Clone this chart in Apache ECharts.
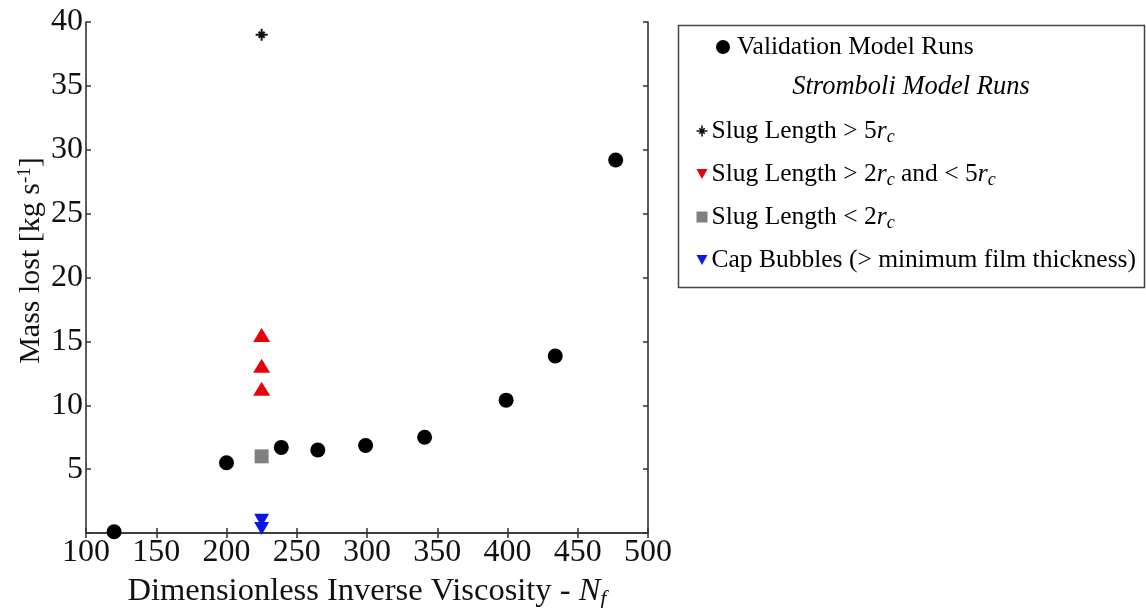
<!DOCTYPE html>
<html>
<head>
<meta charset="utf-8">
<script src="https://cdn.jsdelivr.net/npm/echarts@6/dist/echarts.min.js"></script>
<style>html,body{margin:0;padding:0;background:#fff}#c{width:1146px;height:608px}</style>
</head>
<body>
<div id="c"></div>
<script>
// ---- data ----
const validationX = [120, 200, 239, 265, 299, 341, 399, 434, 477];
const validationY = [0.1, 5.5, 6.7, 6.5, 6.85, 7.5, 10.4, 13.85, 29.2];
const slugLongX = [225];
const slugLongY = [39];
const slugMidX = [225, 225, 225];
const slugMidY = [15.5, 13.1, 11.3];
const slugShortX = [225];
const slugShortY = [6.0];
const capX = [225, 225];
const capY = [1.0, 0.35];
const xTicks = [100, 150, 200, 250, 300, 350, 400, 450, 500];
const yTicks = [0, 5, 10, 15, 20, 25, 30, 35, 40];

const seriesNames = ['Validation Model Runs', 'Slug Length > 5rc', 'Slug Length > 2rc and < 5rc', 'Slug Length < 2rc', 'Cap Bubbles (> minimum film thickness)'];
const zip = (a, b) => a.map((v, i) => [v, b[i]]);

const FONT = '"Liberation Serif", "DejaVu Serif", serif';
const downTri = 'path://M0,0L10,0L5,9Z';
const star = 'path://M5,0L5,10M0,5L10,5M2.5,2.5L7.5,7.5M7.5,2.5L2.5,7.5';

const legendFmt = {
  'Validation Model Runs': 'Validation Model Runs',
  'Slug Length > 5rc': 'Slug Length > 5{i|r}{s|c}',
  'Slug Length > 2rc and < 5rc': 'Slug Length > 2{i|r}{s|c} and < 5{i|r}{s|c}',
  'Slug Length < 2rc': 'Slug Length < 2{i|r}{s|c}',
  'Cap Bubbles (> minimum film thickness)': 'Cap Bubbles (> minimum film thickness)'
};
const legendRich = {
  i: {fontFamily: FONT, fontSize: 25.5, fontStyle: 'italic', color: '#000', lineHeight: 30},
  s: {fontFamily: FONT, fontSize: 18, fontStyle: 'italic', color: '#000', lineHeight: 16, padding: [12, 0, 0, 0]}
};

const chart = echarts.init(document.getElementById('c'));
const axisLine = {show: true, lineStyle: {color: '#333', width: 1.6}};
chart.setOption({
  animation: false,
  backgroundColor: '#fff',
  grid: {left: 86, right: 498, top: 22, bottom: 75, containLabel: false, outerBoundsMode: 'none'},
  xAxis: [{
    type: 'value', min: xTicks[0], max: xTicks[xTicks.length - 1], interval: 50,
    axisLine: axisLine, splitLine: {show: false},
    axisTick: {inside: true, length: 5, lineStyle: {color: '#333', width: 1.5}},
    axisLabel: {fontFamily: FONT, fontSize: 32, color: '#111', margin: 4},
    name: 'Dimensionless Inverse Viscosity - {i|N}{s|f}', nameLocation: 'middle', nameGap: 30,
    nameTextStyle: {fontFamily: FONT, fontSize: 32.5, color: '#111', lineHeight: 34,
      rich: {i: {fontFamily: FONT, fontSize: 32.5, fontStyle: 'italic', color: '#111', lineHeight: 34},
             s: {fontFamily: FONT, fontSize: 22, fontStyle: 'italic', color: '#111', lineHeight: 20, padding: [14, 0, 0, 0]}}}
  }, {
    type: 'value', position: 'top', min: xTicks[0], max: xTicks[xTicks.length - 1], interval: 50,
    axisLine: axisLine, splitLine: {show: false},
    axisTick: {inside: true, length: 5, lineStyle: {color: '#333', width: 1.5}},
    axisLabel: {show: false}
  }],
  yAxis: [{
    type: 'value', min: yTicks[0], max: yTicks[yTicks.length - 1], interval: 5,
    axisLine: axisLine, splitLine: {show: false},
    axisTick: {inside: true, length: 5, lineStyle: {color: '#333', width: 1.5}},
    axisLabel: {fontFamily: FONT, fontSize: 32, color: '#111', margin: 3, formatter: v => v === 0 ? '' : String(v)},
    name: 'Mass lost [kg s{sup|-1}]', nameLocation: 'middle', nameGap: 37, nameRotate: 90,
    nameTextStyle: {fontFamily: FONT, fontSize: 30, color: '#111', lineHeight: 32, padding: [0, 0, 0, 34],
      rich: {sup: {fontFamily: FONT, fontSize: 19, color: '#111', lineHeight: 18, padding: [0, 0, 12, 0]}}}
  }, {
    type: 'value', position: 'right', min: yTicks[0], max: yTicks[yTicks.length - 1], interval: 5,
    axisLine: axisLine, splitLine: {show: false},
    axisTick: {inside: true, length: 5, lineStyle: {color: '#333', width: 1.5}},
    axisLabel: {show: false}
  }],
  legend: [{
    data: [{name: seriesNames[0], icon: 'circle'}],
    left: 711, top: 27, orient: 'vertical', itemWidth: 14, itemHeight: 14, itemGap: 13,
    selectedMode: false,
    textStyle: {fontFamily: FONT, fontSize: 25.5, color: '#000', lineHeight: 30, padding: [0, 0, 0, 2]}
  }, {
    data: [
      {name: seriesNames[1], icon: star, itemStyle: {color: 'none', borderColor: '#111', borderWidth: 1.6}},
      {name: seriesNames[2], icon: downTri},
      {name: seriesNames[3], icon: 'rect'},
      {name: seriesNames[4], icon: downTri}
    ],
    left: 689, top: 111, orient: 'vertical', itemWidth: 11, itemHeight: 11, itemGap: 13,
    selectedMode: false,
    formatter: n => legendFmt[n],
    textStyle: {fontFamily: FONT, fontSize: 25.5, color: '#000', lineHeight: 30, padding: [0, 0, 0, -1], rich: legendRich}
  }],
  graphic: [{
    type: 'rect', left: 676, top: 23, shape: {width: 466, height: 262},
    style: {fill: 'none', stroke: '#444', lineWidth: 1.5}
  }, {
    type: 'text', x: 911, y: 87,
    style: {text: 'Stromboli Model Runs', fontFamily: FONT, fontSize: 26.5, fontStyle: 'italic', fill: '#000', textAlign: 'center', textVerticalAlign: 'middle'}
  }],
  series: [{
    name: seriesNames[0], type: 'scatter', data: zip(validationX, validationY), clip: false,
    symbol: 'circle', symbolSize: 15, itemStyle: {color: '#000', opacity: 1}
  }, {
    name: seriesNames[1], type: 'scatter', data: zip(slugLongX, slugLongY), clip: false,
    symbol: star, symbolSize: 12, itemStyle: {color: 'none', borderColor: '#111', borderWidth: 2, opacity: 1}
  }, {
    name: seriesNames[2], type: 'scatter', data: zip(slugMidX, slugMidY), clip: false,
    symbol: 'triangle', symbolSize: [17, 14], itemStyle: {color: '#e8000b', opacity: 1}
  }, {
    name: seriesNames[3], type: 'scatter', data: zip(slugShortX, slugShortY), clip: false,
    symbol: 'rect', symbolSize: 14, itemStyle: {color: '#808080', opacity: 1}
  }, {
    name: seriesNames[4], type: 'scatter', data: zip(capX, capY), clip: false,
    symbol: downTri, symbolSize: [15, 13], itemStyle: {color: '#0a17e6', opacity: 1}
  }]
});
</script>
</body>
</html>
